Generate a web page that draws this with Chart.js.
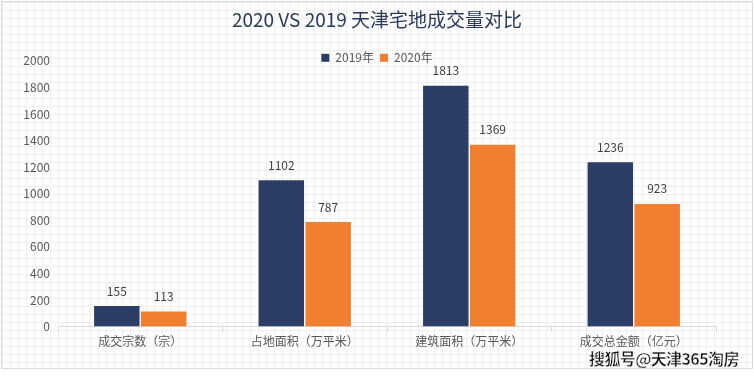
<!DOCTYPE html>
<html>
<head>
<meta charset="utf-8">
<script src="https://cdn.jsdelivr.net/npm/chart.js@4"></script>
<style>
  html, body { margin: 0; padding: 0; background: #fff; }
  #wrap { position: relative; width: 754px; height: 378px; }
  #bg {
    position: absolute; left: 1px; top: 1px; width: 750px; height: 366px;
    border: 1px solid #d9d9d9;
    background-color: #fff;
    background-image:
      linear-gradient(to right, #efefef 1px, transparent 1px),
      linear-gradient(to bottom, #efefef 1px, transparent 1px);
    background-size: 8px 8px;
  }
  #chart { position: absolute; left: 0; top: 0; }
  #mark {
    position: absolute; left: 589px; top: 346px;
    font: bold 16px "Noto Sans CJK SC", sans-serif; color: #111;
    -webkit-text-stroke: 0.4px #fff; letter-spacing: -0.6px;
  }
</style>
</head>
<body>
<div id="wrap">
  <div id="bg"></div>
  <canvas id="chart" width="754" height="378"></canvas>
  <div id="mark">搜狐号@天津365淘房</div>
</div>
<script>
var categorias = ['成交宗数（宗）', '占地面积（万平米）', '建筑面积（万平米）', '成交总金额（亿元）'];
var valores2019 = [155, 1102, 1813, 1236];
var valores2020 = [113, 787, 1369, 923];
var ticksY = [0, 200, 400, 600, 800, 1000, 1200, 1400, 1600, 1800, 2000];

var fuente = '"Noto Sans CJK SC", "Open Sans", sans-serif';

// etiquetas de valor encima de cada barra
var etiquetas = {
    id: 'etiquetas',
    afterDatasetsDraw: function (chart) {
        var ctx = chart.ctx;
        ctx.save();
        ctx.font = '12px ' + fuente;
        ctx.fillStyle = '#404040';
        ctx.textAlign = 'center';
        ctx.textBaseline = 'middle';
        chart.data.datasets.forEach(function (ds, i) {
            chart.getDatasetMeta(i).data.forEach(function (bar, j) {
                ctx.fillText(ds.data[j], bar.x, bar.y - 15);
            });
        });
        ctx.restore();
    }
};

// la leyenda se solapa un poco con el area del grafico
var leyendaBaja = {
    id: 'leyendaBaja',
    beforeInit: function (chart) {
        var leyenda = chart.legend;
        var fitOriginal = leyenda.fit;
        leyenda.fit = function () {
            fitOriginal.bind(leyenda)();
            this.height -= 13;
        };
        // sin recorte, si no el texto se corta
        leyenda.draw = function () {
            this._draw();
        };
    }
};

var canvas = document.getElementById('chart').getContext('2d');

window.bar = new Chart(canvas, {
    type: 'bar',
    data: {
        labels: categorias,
        datasets: [{
            label: '2019年',
            backgroundColor: '#2c3d67',
            data: valores2019,
            categoryPercentage: 0.57,
            barPercentage: 0.97
        }, {
            label: '2020年',
            backgroundColor: '#f07f2f',
            data: valores2020,
            categoryPercentage: 0.57,
            barPercentage: 0.97
        }]
    },
    options: {
        responsive: false,
        animation: false,
        layout: {
            padding: { left: 19, right: 19, top: 0, bottom: 26 }
        },
        plugins: {
            title: {
                display: true,
                text: '2020 VS 2019 天津宅地成交量对比',
                color: '#2b3a5c',
                font: { family: fuente, size: 19, weight: 'normal' },
                padding: { top: 8, bottom: 15 }
            },
            legend: {
                display: true,
                labels: {
                    color: '#595959',
                    font: { family: fuente, size: 12 },
                    boxWidth: 8,
                    boxHeight: 8,
                    padding: 6
                }
            },
            tooltip: { enabled: false }
        },
        scales: {
            x: {
                grid: {
                    display: true,
                    drawOnChartArea: false,
                    drawTicks: true,
                    tickLength: 5,
                    color: '#d9d9d9'
                },
                border: { display: true, color: '#d9d9d9' },
                ticks: {
                    color: '#595959',
                    font: { family: fuente, size: 12 },
                    padding: 3,
                    maxRotation: 0
                }
            },
            y: {
                min: 0,
                max: 2000,
                afterBuildTicks: function (scale) {
                    scale.ticks = ticksY.map(function (v) { return { value: v }; });
                },
                afterFit: function (scale) { scale.width = 39; },
                grid: { display: false, drawTicks: false },
                border: { display: false },
                ticks: {
                    color: '#595959',
                    font: { family: fuente, size: 12 },
                    padding: 8,
                    callback: function (v) { return String(v); }
                }
            },
            y2: {
                position: 'right',
                display: true,
                afterFit: function (scale) { scale.width = 19; },
                grid: { display: false, drawTicks: false },
                border: { display: false },
                ticks: { display: false }
            }
        }
    },
    plugins: [etiquetas, leyendaBaja]
});
</script>
</body>
</html>
